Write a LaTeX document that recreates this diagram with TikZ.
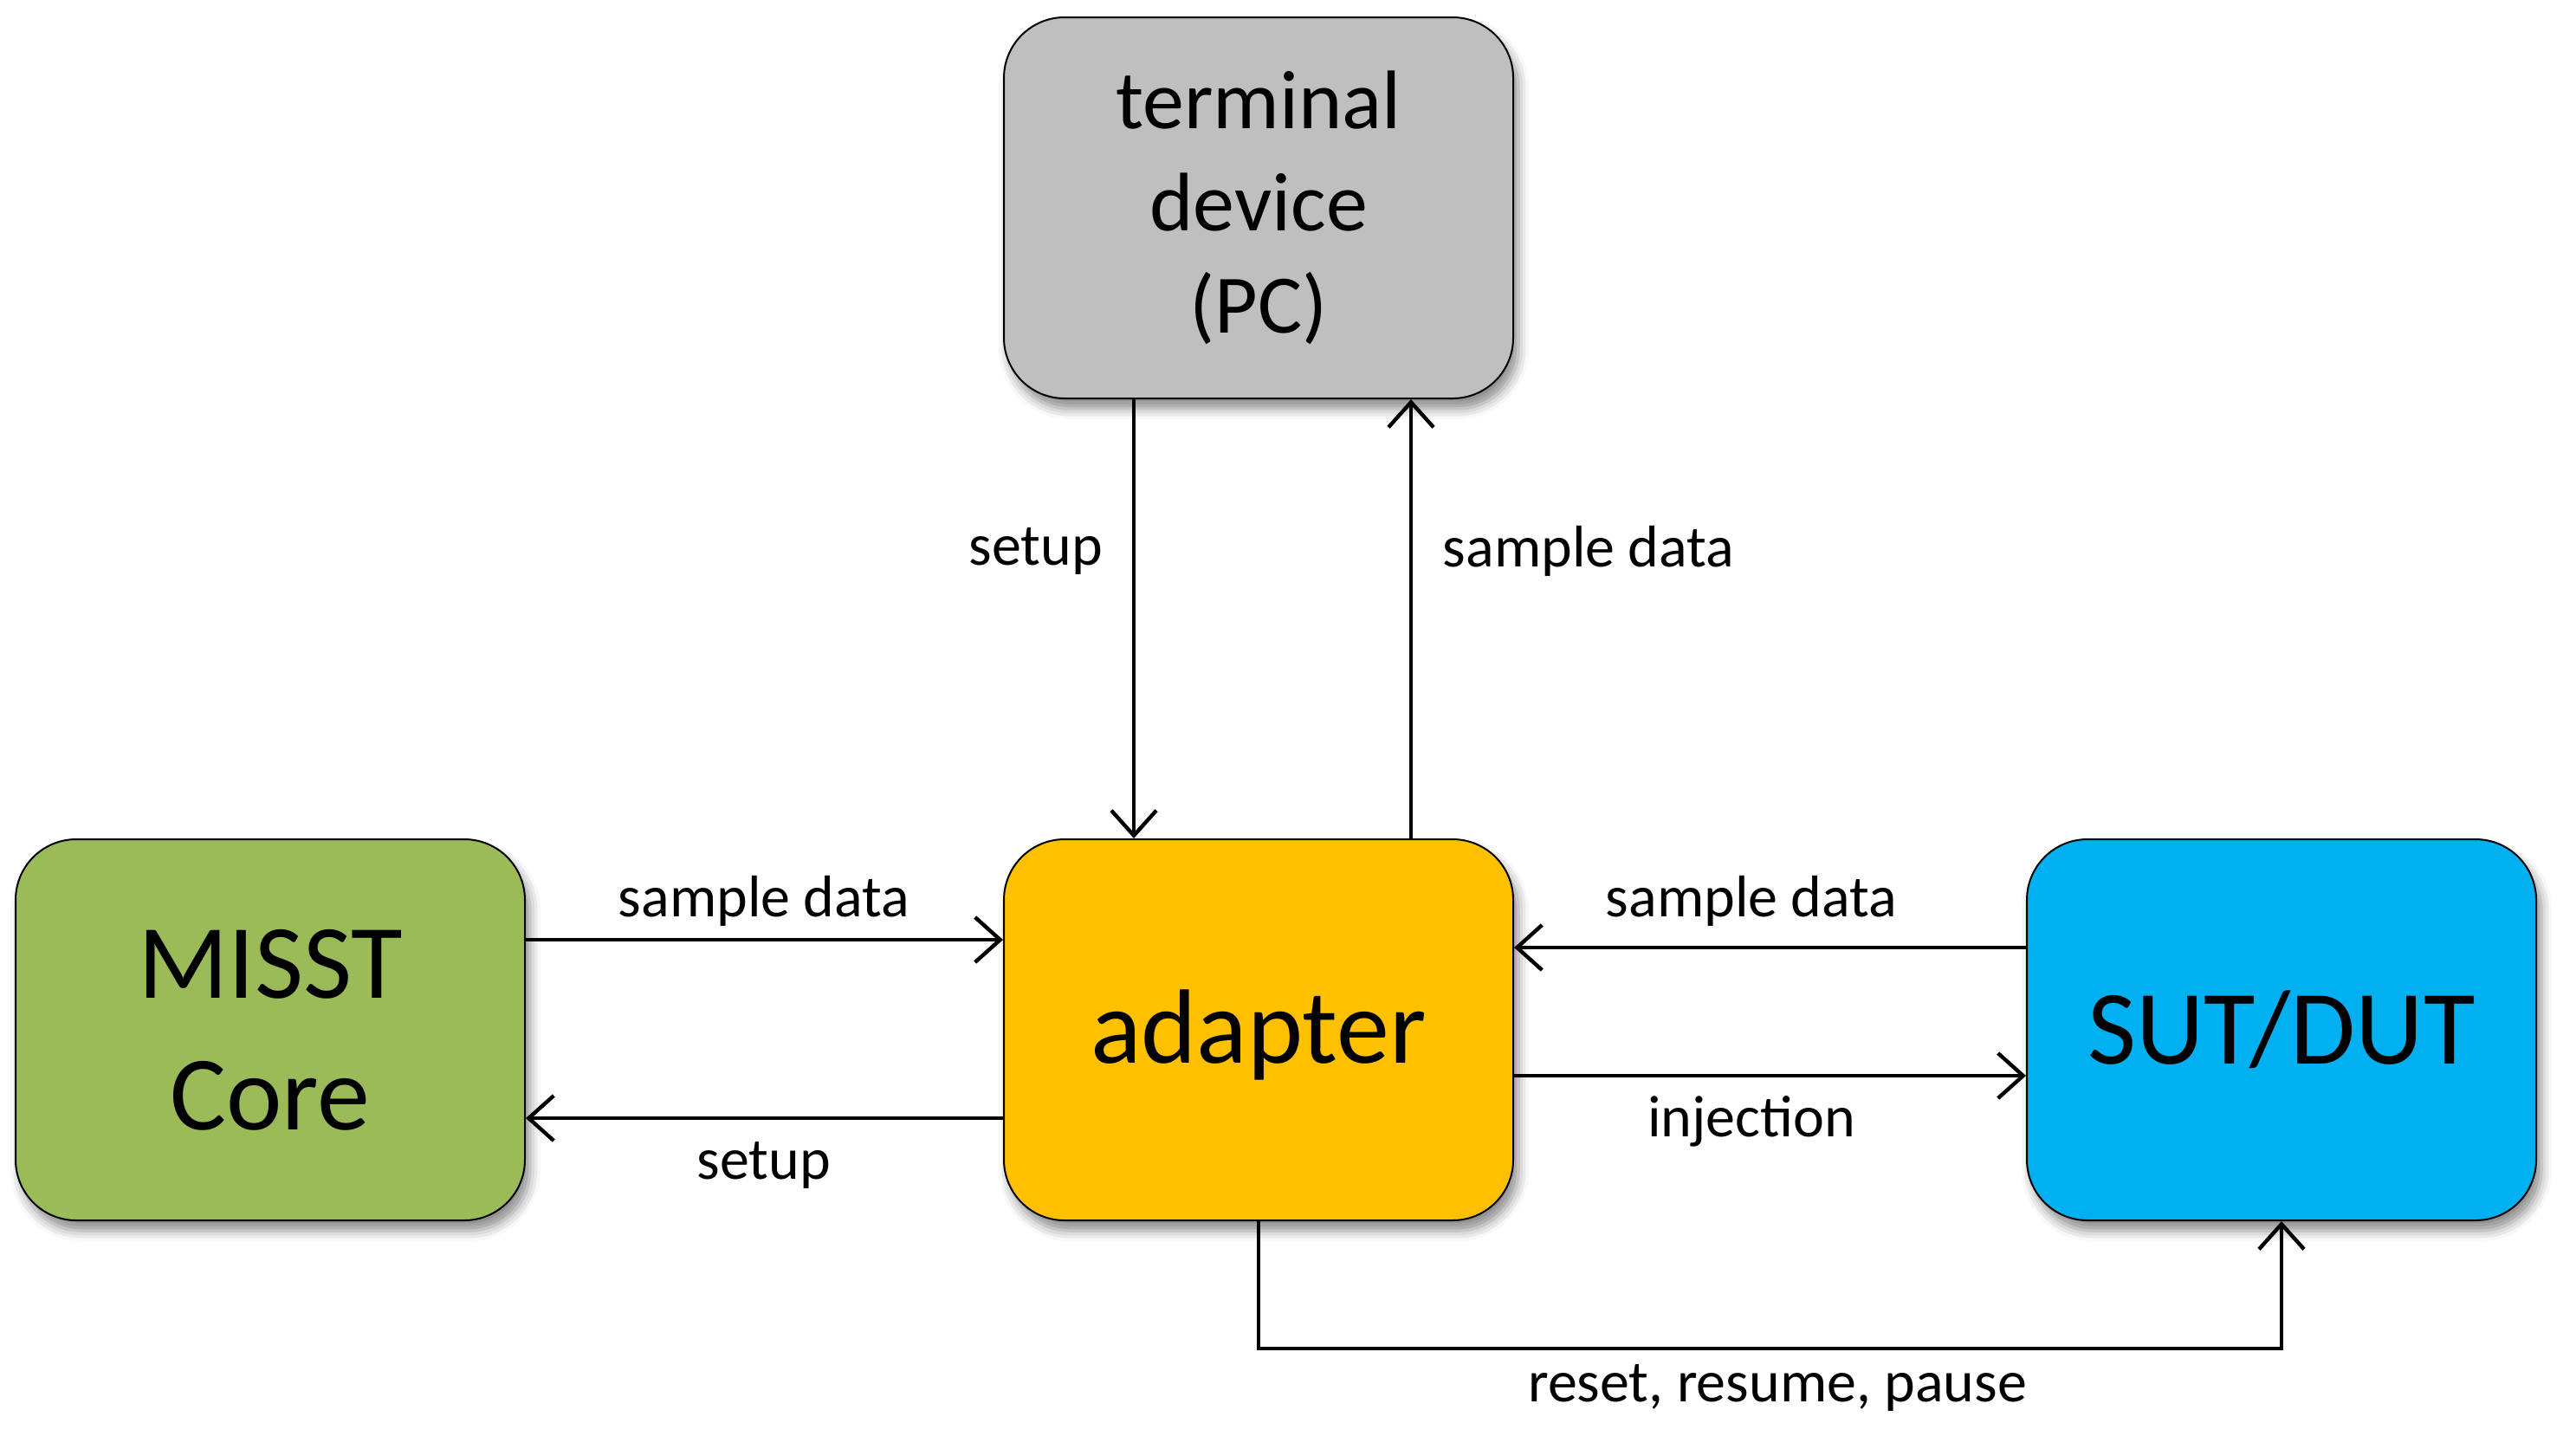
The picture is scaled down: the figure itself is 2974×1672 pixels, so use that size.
\documentclass[tikz,border=0pt]{standalone}
\usepackage{fontspec}
\setmainfont{Carlito}
\usetikzlibrary{arrows.meta,shadows.blur}
\definecolor{termgray}{HTML}{BFBFBF}
\definecolor{coregreen}{HTML}{9BBB59}
\definecolor{adaptorange}{HTML}{FFC000}
\definecolor{sutblue}{HTML}{00B0F0}
\tikzset{
  box/.style={draw=black, line width=1pt, rectangle, rounded corners=35pt,
    minimum width=294pt, minimum height=220pt, inner sep=0pt, align=center,
    blur shadow={shadow xshift=3pt, shadow yshift=-6pt, shadow blur radius=6pt, shadow opacity=45}},
  bigtext/.style={font=\fontsize{61pt}{76pt}\selectfont},
  termtext/.style={font=\fontsize{48pt}{59pt}\selectfont},
  lbl/.style={font=\fontsize{34pt}{41pt}\selectfont, inner sep=0pt},
  arr/.style={line width=2.2pt, -{Straight Barb[length=14.5pt,width=26pt,line width=2.2pt]}},
  conn/.style={line width=2pt}
}
\begin{document}
\begin{tikzpicture}[x=0.5pt,y=-0.5pt]
\useasboundingbox (0,0) rectangle (2974,1672);
\node[box, fill=termgray, termtext] (term) at (1453,240) {terminal\\device\\(PC)};
\node[box, fill=coregreen, bigtext] (core) at (312,1189) {MISST\\Core};
\node[box, fill=adaptorange, bigtext] (adapter) at (1453,1189) {\raisebox{-3pt}[\height][\depth]{adapter}};
\node[box, fill=sutblue, bigtext] (sut) at (2634,1189) {SUT/DUT};

% terminal <-> adapter
\draw[arr] ([xshift=-72pt]term.south) -- ([xshift=-72pt]adapter.north);
\draw[arr] ([xshift=88pt]adapter.north) -- ([xshift=88pt]term.south);
\node[lbl] (lsetup1) at (1196,636) {setup};
\node[lbl] (lsample1) at (1834,636) {sample data};

% core <-> adapter
\draw[arr] ([yshift=52pt]core.east) -- ([yshift=52pt]adapter.west);
\draw[arr] ([yshift=-51pt]adapter.west) -- ([yshift=-51pt]core.east);
\node[lbl] (lsample2) at (882,1040) {sample data};
\node[lbl] (lsetup2) at (882,1345) {setup};

% sut <-> adapter
\draw[arr] ([yshift=47.5pt]sut.west) -- ([yshift=47.5pt]adapter.east);
\draw[arr] ([yshift=-26.5pt]adapter.east) -- ([yshift=-26.5pt]sut.west);
\node[lbl] (lsample3) at (2022,1040) {sample data};
\node[lbl] (linj) at (2022,1295) {injection};

% reset path
\coordinate (rr) at (0,1557);
\draw[arr] (adapter.south) -- (adapter.south |- rr) -- (sut.south |- rr) -- (sut.south);
\node[lbl] (lreset) at (2052,1602) {reset, resume, pause};
\end{tikzpicture}
\end{document}
